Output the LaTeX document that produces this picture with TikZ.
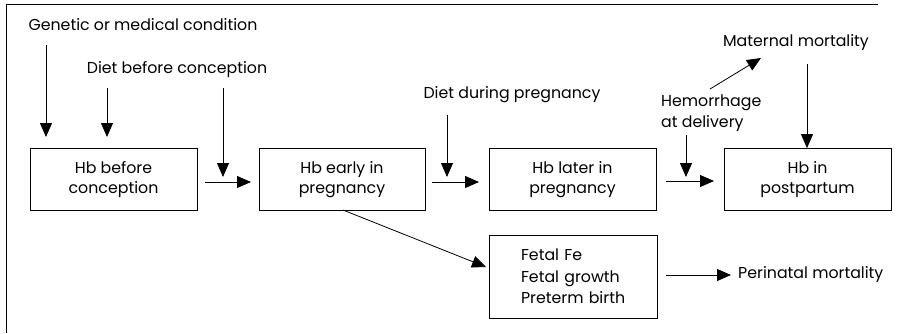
\documentclass[tikz,border=0pt]{standalone}
\usepackage{fontspec}
\setmainfont{Poppins}
\usetikzlibrary{arrows.meta}
\begin{document}
\begin{tikzpicture}[x=1pt,y=-1pt,
  every node/.style={font=\fontsize{15.8}{20.5}\selectfont, inner sep=0pt},
  box/.style={draw, line width=0.8pt, minimum width=167pt, minimum height=62pt, align=center},
  lbl/.style={align=left},
  arr/.style={line width=0.8pt, -{Triangle[width=12pt,length=14pt]}}]
\useasboundingbox (0,0) rectangle (906,333);
\draw[line width=0.8pt] (6,333) -- (6,4) -- (878,4);
% boxes
\node[box] (b1) at (113.5,179.5) {Hb before\\conception};
\node[box, minimum width=166pt] (b2) at (342,179.5) {Hb early in\\pregnancy};
\node[box] (b3) at (572.5,179.5) {Hb later in\\pregnancy};
\node[box] (b4) at (807.5,179.5) {Hb in\\postpartum};
\node[draw, line width=0.8pt, minimum width=168pt, minimum height=83pt, font=\fontsize{15.8}{21.5}\selectfont, align=left, text width=104pt] (b5) at (573,276.5) {Fetal Fe\\\mbox{Fetal growth}\\\mbox{Preterm birth}};
% labels
\node (gen) at (143,25) {Genetic or medical condition};
\node (dbc) at (177,70) {Diet before conception};
\node (ddp) at (512,95) {Diet during pregnancy};
\node[lbl, anchor=west] (hem) at (661,113) {Hemorrhage\\at delivery};
\node (mat) at (796,43) {Maternal mortality};
\node[anchor=west] (peri) at (738,275) {Perinatal mortality};
% coordinates
\coordinate (a1s) at (46,45);  \coordinate (a1e) at (46,137);
\coordinate (a2s) at (107,88); \coordinate (a2e) at (107,137);
\coordinate (a3s) at (223,88); \coordinate (a3e) at (223,177);
\coordinate (h1s) at (205,182); \coordinate (h1e) at (251,182);
\coordinate (a4s) at (447,115); \coordinate (a4e) at (447,177);
\coordinate (h2s) at (432,182); \coordinate (h2e) at (479,182);
\coordinate (a5s) at (686,135); \coordinate (a5e) at (686,177);
\coordinate (h3s) at (666,181); \coordinate (h3e) at (714,181);
\coordinate (hms) at (710,89);  \coordinate (hme) at (761,58);
\coordinate (m4s) at (807,64);
\coordinate (d5s) at (343,210); \coordinate (d5e) at (486,267);
\coordinate (h5s) at (666,275); \coordinate (h5e) at (731,275);
\draw[arr] (a1s) -- (a1e);
\draw[arr] (a2s) -- (a2e);
\draw[arr] (a3s) -- (a3e);
\draw[arr] (h1s) -- (h1e);
\draw[arr] (a4s) -- (a4e);
\draw[arr] (h2s) -- (h2e);
\draw[arr] (a5s) -- (a5e);
\draw[arr] (h3s) -- (h3e);
\draw[arr] (hms) -- (hme);
\draw[arr] (m4s) -- (b4.north -| m4s);
\draw[arr] (d5s) -- (d5e);
\draw[arr] (h5s) -- (h5e);
\end{tikzpicture}
\end{document}
